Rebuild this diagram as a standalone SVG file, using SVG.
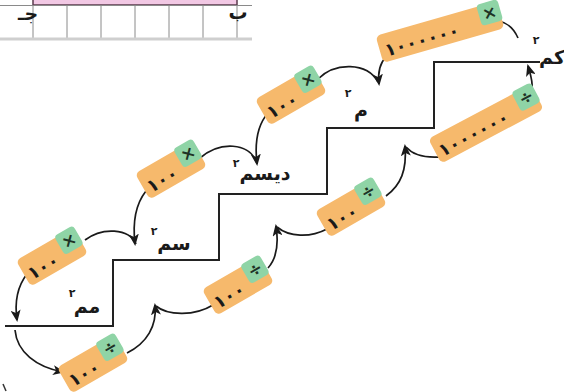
<svg xmlns="http://www.w3.org/2000/svg" width="564" height="392" viewBox="0 0 564 392">
  <style>
    .grid { stroke: #8a8a8a; stroke-width: 1; fill: none; }
    .stair { stroke: #222; stroke-width: 2; fill: none; }
    .link { stroke: #1a1a1a; stroke-width: 1.7; fill: none; }
    .arrow { marker-end: url(#head); }
    .body { fill: #F6B96C; }
    .op { fill: #8FD4A6; }
    .num { font-family: "DejaVu Sans", "Noto Sans", sans-serif; font-weight: bold; font-size: 18px; fill: #1a1a1a; }
    .sign { font-family: "DejaVu Sans", sans-serif; font-weight: bold; font-size: 17px; fill: #1e3326; text-anchor: middle; }
    .lbl { font-family: "DejaVu Sans", sans-serif; font-weight: bold; font-size: 19px; fill: #1a1a1a; text-anchor: middle; }
    .sup { font-family: "DejaVu Sans", sans-serif; font-weight: bold; font-size: 11px; fill: #1a1a1a; text-anchor: middle; }
  </style>
  <defs>
    <marker id="head" viewBox="0 0 12 10" refX="10" refY="5" markerWidth="12" markerHeight="10" markerUnits="userSpaceOnUse" orient="auto">
      <path d="M0,0 L12,5 L0,10 L3,5 z" fill="#1a1a1a"/>
    </marker>
  </defs>

  <rect width="564" height="392" fill="#ffffff"/>

  <!-- table strip at the top -->
  <g id="table">
    <rect x="33" y="-2" width="204" height="7" fill="#F2C8E4" stroke="#5a3a4c" stroke-width="1.5"/>
    <line class="grid" x1="0" y1="5.5" x2="252" y2="5.5"/>
    <g class="grid">
      <line x1="33" y1="5" x2="33" y2="38"/>
      <line x1="67" y1="5" x2="67" y2="38"/>
      <line x1="101" y1="5" x2="101" y2="38"/>
      <line x1="135" y1="5" x2="135" y2="38"/>
      <line x1="169" y1="5" x2="169" y2="38"/>
      <line x1="203" y1="5" x2="203" y2="38"/>
      <line x1="237" y1="5" x2="237" y2="38"/>
    </g>
    <rect x="0" y="37.5" width="252" height="3" fill="#cfcfcf"/>
    <text class="lbl" x="28" y="20" font-size="16">جـ</text>
    <text class="lbl" x="238" y="19" font-size="16">ب</text>
  </g>

  <!-- staircase -->
  <path class="stair" d="M5,326 H113 V260 H219 V194 H327 V128 H434 V62 H540"/>

  <!-- connectors -->
  <g id="connectors">
    <path class="link" d="M518,38 Q512,24 499,21"/>
    <path class="link arrow" d="M386,57 Q377,66 379,84"/>
    <path class="link" d="M318,79 C335,62 367,62 378,82"/>
    <path class="link arrow" d="M268,113 Q253,130 257,164"/>
    <path class="link" d="M200,158 C220,141 249,142 257,163"/>
    <path class="link arrow" d="M146,191 Q131,210 135,244"/>
    <path class="link" d="M85,240 C102,227 129,228 136,244"/>
    <path class="link arrow" d="M27,274 Q13,292 17,320"/>

    <path class="link arrow" d="M15,330 C17,352 36,367 63,372"/>
    <path class="link arrow" d="M127,353 C147,343 157,326 155,305"/>
    <path class="link" d="M213,305 C195,316 168,316 156,306"/>
    <path class="link arrow" d="M268,268 C277,258 279,245 276,226"/>
    <path class="link" d="M327,229 C310,238 289,237 277,227"/>
    <path class="link arrow" d="M386,196 C401,185 407,170 405,146"/>
    <path class="link" d="M440,157 C425,158 413,155 406,147"/>
    <path class="link arrow" d="M532,89 C533,81 531,76 528,66"/>
  </g>

  <!-- multiply tags (large unit to small unit) -->
  <g id="tag-km2-m2" transform="translate(440,32) rotate(-16)">
    <rect class="body" x="-63" y="-14" width="126" height="28" rx="5"/>
    <rect class="op" x="42" y="-16" width="22" height="22" rx="4"/>
    <text class="sign" x="53" y="1">×</text>
    <text class="num" x="-58" y="9" letter-spacing="1.5">١٠٠٠٠٠٠</text>
  </g>
  <g id="tag-m2-dm2" transform="translate(291,96) rotate(-30)">
    <rect class="body" x="-33" y="-15" width="66" height="30" rx="5"/>
    <rect class="op" x="12" y="-17" width="22" height="22" rx="4"/>
    <text class="sign" x="23" y="0">×</text>
    <text class="num" x="-29" y="10" letter-spacing="1">١٠٠</text>
  </g>
  <g id="tag-dm2-cm2" transform="translate(171,170) rotate(-30)">
    <rect class="body" x="-33" y="-15" width="66" height="30" rx="5"/>
    <rect class="op" x="12" y="-17" width="22" height="22" rx="4"/>
    <text class="sign" x="23" y="0">×</text>
    <text class="num" x="-29" y="10" letter-spacing="1">١٠٠</text>
  </g>
  <g id="tag-cm2-mm2" transform="translate(52,257) rotate(-30)">
    <rect class="body" x="-33" y="-15" width="66" height="30" rx="5"/>
    <rect class="op" x="12" y="-17" width="22" height="22" rx="4"/>
    <text class="sign" x="23" y="0">×</text>
    <text class="num" x="-29" y="10" letter-spacing="1">١٠٠</text>
  </g>

  <!-- divide tags (small unit to large unit) -->
  <g id="tag-mm2-cm2" transform="translate(93,364) rotate(-30)">
    <rect class="body" x="-33" y="-15" width="66" height="30" rx="5"/>
    <rect class="op" x="12" y="-17" width="22" height="22" rx="4"/>
    <text class="sign" x="23" y="0">÷</text>
    <text class="num" x="-29" y="10" letter-spacing="1">١٠٠</text>
  </g>
  <g id="tag-cm2-dm2" transform="translate(238,286) rotate(-30)">
    <rect class="body" x="-33" y="-15" width="66" height="30" rx="5"/>
    <rect class="op" x="12" y="-17" width="22" height="22" rx="4"/>
    <text class="sign" x="23" y="0">÷</text>
    <text class="num" x="-29" y="10" letter-spacing="1">١٠٠</text>
  </g>
  <g id="tag-dm2-m2" transform="translate(351,208) rotate(-30)">
    <rect class="body" x="-33" y="-15" width="66" height="30" rx="5"/>
    <rect class="op" x="12" y="-17" width="22" height="22" rx="4"/>
    <text class="sign" x="23" y="0">÷</text>
    <text class="num" x="-29" y="10" letter-spacing="1">١٠٠</text>
  </g>
  <g id="tag-m2-km2" transform="translate(486,124) rotate(-28)">
    <rect class="body" x="-58" y="-14" width="116" height="28" rx="5"/>
    <rect class="op" x="37" y="-16" width="22" height="22" rx="4"/>
    <text class="sign" x="48" y="1">÷</text>
    <text class="num" x="-54" y="9" letter-spacing="1.5">١٠٠٠٠٠٠</text>
  </g>

  <!-- unit labels -->
  <g id="label-km2">
    <text class="lbl" x="552" y="64" font-size="17">كم</text>
    <text class="sup" x="536" y="44">٢</text>
  </g>
  <g id="label-m2">
    <text class="lbl" x="361" y="117">م</text>
    <text class="sup" x="348" y="97">٢</text>
  </g>
  <g id="label-dm2">
    <text class="lbl" x="265" y="180">ديسم</text>
    <text class="sup" x="236" y="167">٢</text>
  </g>
  <g id="label-cm2">
    <text class="lbl" x="174" y="250">سم</text>
    <text class="sup" x="154" y="235">٢</text>
  </g>
  <g id="label-mm2">
    <text class="lbl" x="87" y="313">مم</text>
    <text class="sup" x="72" y="297">٢</text>
  </g>

  <path d="M3,384 L6,391" stroke="#333" stroke-width="1.5" fill="none"/>
</svg>
